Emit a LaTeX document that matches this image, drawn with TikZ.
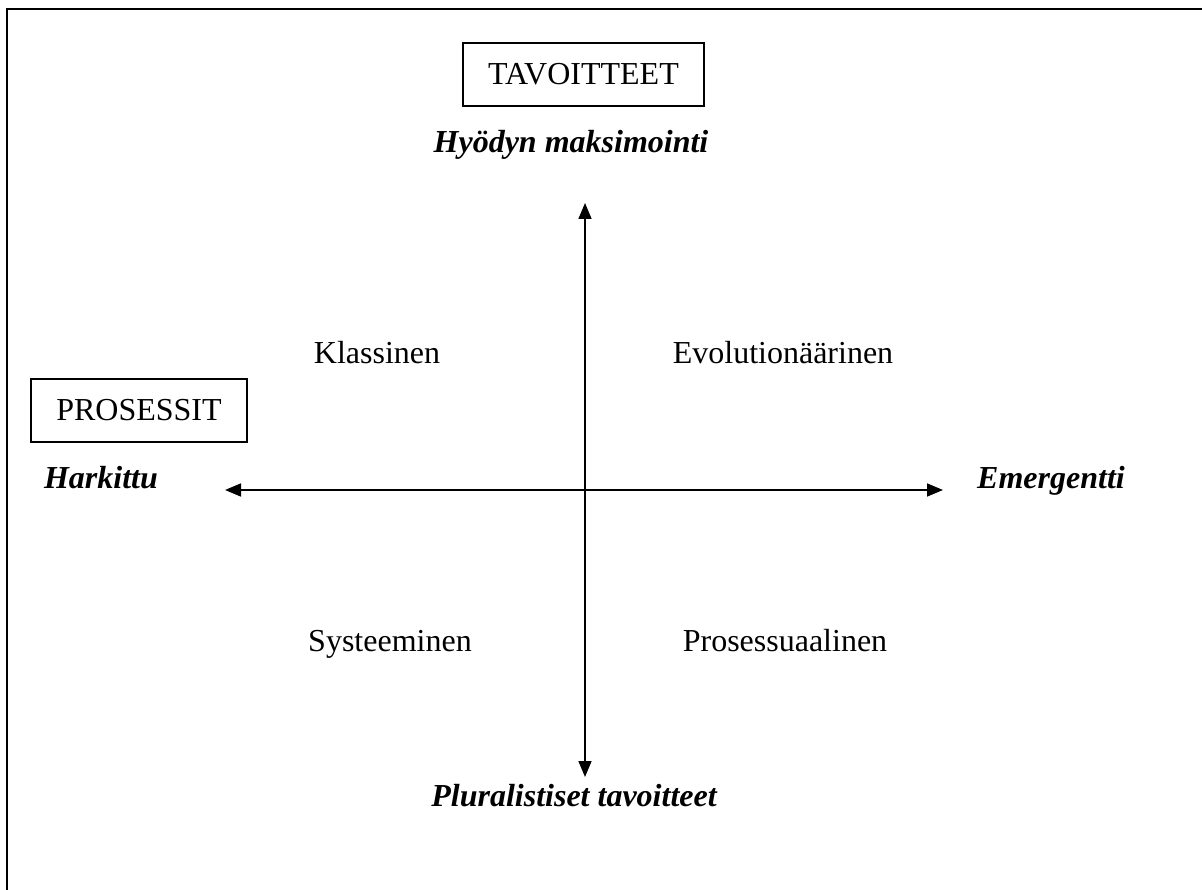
\documentclass[tikz,border=0pt]{standalone}
\usepackage{fontspec}
\setmainfont{Liberation Serif}
\usetikzlibrary{arrows.meta}
\begin{document}
\begin{tikzpicture}[x=1pt,y=-1pt,
  txt/.style={inner sep=0pt,anchor=base,font=\fontsize{32}{38}\selectfont},
  emph/.style={txt,font=\fontsize{32}{38}\selectfont\bfseries\itshape},
  boxed/.style={draw,line width=1.2pt,inner sep=0pt,font=\fontsize{32}{38}\selectfont},
  axis/.style={line width=1.6pt,{Triangle[length=16pt,width=13pt]}-{Triangle[length=16pt,width=13pt]}}]
\useasboundingbox (0,0) rectangle (1202,890);
% frame
\draw[line width=2.4pt] (1202,9) -- (7,9) -- (7,890);
% boxes
\node[boxed,minimum width=241pt,minimum height=63pt] (tav) at (583.5,74.5) {TAVOITTEET};
\node[boxed,minimum width=216pt,minimum height=63pt] (pro) at (139,410.5) {PROSESSIT};
% axis end labels
\node[emph] (hyo) at (571,153) {Hyödyn maksimointi};
\node[emph] (plu) at (574,806) {Pluralistiset tavoitteet};
\node[emph] (har) at (101,488) {Harkittu};
\node[emph] (eme) at (1051,488) {Emergentti};
% quadrant labels
\node[txt] (kla) at (377,364) {Klassinen};
\node[txt] (evo) at (783,364) {Evolutionäärinen};
\node[txt] (sys) at (390,651) {Systeeminen};
\node[txt] (prs) at (785,651) {Prosessuaalinen};
% axes
\coordinate (top) at (585,203);
\coordinate (bot) at (585,777);
\coordinate (lft) at (225,490);
\coordinate (rgt) at (943,490);
\draw[axis] (top) -- (bot);
\draw[axis] (lft) -- (rgt);
\end{tikzpicture}
\end{document}
